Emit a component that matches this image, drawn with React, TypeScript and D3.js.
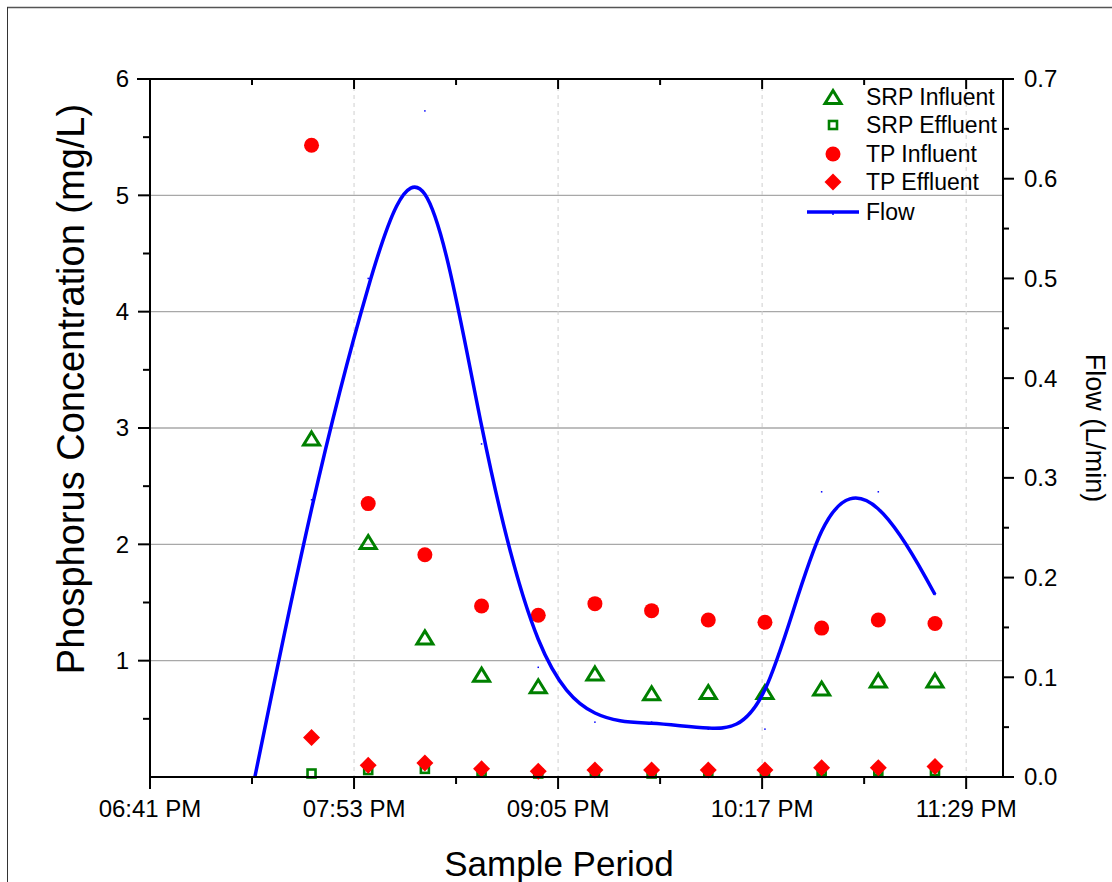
import React from "react";
import * as d3 from "d3";

// Sampling times (24h clock) and measured phosphorus concentrations (mg/L)
const sampleTimes = ["19:38", "19:58", "20:18", "20:38", "20:58", "21:18", "21:38", "21:58", "22:18", "22:38", "22:58", "23:18"];
const srpInfluent = [2.91, 2.02, 1.2, 0.88, 0.78, 0.89, 0.72, 0.73, 0.73, 0.76, 0.83, 0.83];
const srpEffluent = [0.03, 0.06, 0.07, 0.04, 0.03, 0.04, 0.03, 0.04, 0.04, 0.05, 0.05, 0.05];
const tpInfluent = [5.43, 2.35, 1.91, 1.47, 1.39, 1.49, 1.43, 1.35, 1.33, 1.28, 1.35, 1.32];
const tpEffluent = [0.34, 0.1, 0.12, 0.07, 0.05, 0.06, 0.06, 0.06, 0.06, 0.08, 0.08, 0.09];

// Flow readings (L/min), smoothed with a B-spline
const flowTimes = ["19:18", "19:38", "19:58", "20:18", "20:38", "20:58", "21:18", "21:38", "21:58", "22:18", "22:38", "22:58", "23:18"];
const flowValues = [0, 0.278, 0.5, 0.668, 0.334, 0.11, 0.055, 0.055, 0.048, 0.048, 0.286, 0.286, 0.183];

// Axis settings
const xStart = "18:41";
const xEnd = "23:42";
const xTickTimes = ["18:41", "19:53", "21:05", "22:17", "23:29"];
const xMinorTimes = ["19:17", "20:29", "21:41", "22:53"];
const leftTicks = [1, 2, 3, 4, 5, 6];
const rightTicks = [0, 0.1, 0.2, 0.3, 0.4, 0.5, 0.6, 0.7];

const legendLabels = ["SRP Influent", "SRP Effluent", "TP Influent", "TP Effluent", "Flow"];

const toDate = (t: string) => {
  const [h, m] = t.split(":").map(Number);
  return new Date(2019, 5, 1, h, m);
};

const W = 1112;
const H = 882;
const L = 150, R = 1003, T = 79, B = 777;
const FONT = "'Liberation Sans', Arial, sans-serif";
const GREEN = "#008000";
const RED = "#ff0000";
const BLUE = "#0000ff";
const TICK_FS = 24;

export default function App() {
  const x = d3.scaleTime().domain([toDate(xStart), toDate(xEnd)]).range([L, R]);
  const yL = d3.scaleLinear().domain([0, 6]).range([B, T]);
  const yR = d3.scaleLinear().domain([0, 0.7]).range([B, T]);
  const fmt = d3.timeFormat("%I:%M %p");

  const samples = sampleTimes.map(toDate);
  const flowPts: [number, number][] = flowTimes.map((t, i) => [x(toDate(t)), yR(flowValues[i])]);
  const flowPath = d3.line().curve(d3.curveBasis)(flowPts) || "";

  const triPath = (cx: number, cy: number, w = 16, h = 13) =>
    `M${cx},${cy - h / 2}L${cx + w / 2},${cy + h / 2}L${cx - w / 2},${cy + h / 2}Z`;
  const diaPath = (cx: number, cy: number, r = 8.5) =>
    `M${cx},${cy - r}L${cx + r},${cy}L${cx},${cy + r}L${cx - r},${cy}Z`;

  const leftMinor = d3.range(0.5, 6, 1);
  const rightMinor = d3.range(0.05, 0.7, 0.1);

  const legendX = 833;
  const legendY = [97, 125, 154, 182, 212];

  return (
    <div style={{ position: "absolute", left: 0, top: 0 }}>
      <svg width={W} height={H} style={{ display: "block", background: "#fff" }} fontFamily={FONT}>
        {/* page frame */}
        <line x1={7} y1={7.5} x2={W} y2={7.5} stroke="#555" strokeWidth={1.5} />
        <line x1={7.5} y1={7} x2={7.5} y2={H} stroke="#333" strokeWidth={1} />

        {/* gridlines */}
        {leftTicks.filter((v) => v < 6).map((v) => (
          <line key={"gh" + v} x1={L} x2={R} y1={yL(v)} y2={yL(v)} stroke="#a8a8a8" strokeWidth={1.3} />
        ))}
        {xTickTimes.slice(1).map((t) => (
          <line key={"gv" + t} x1={x(toDate(t))} x2={x(toDate(t))} y1={T} y2={B} stroke="#cfcfcf" strokeWidth={1} strokeDasharray="4,4" />
        ))}

        {/* scatter series */}
        {samples.map((d, i) => (
          <path key={"si" + i} d={triPath(x(d), yL(srpInfluent[i]))} fill="none" stroke={GREEN} strokeWidth={3} strokeLinejoin="miter" />
        ))}
        {samples.map((d, i) => (
          <rect key={"se" + i} x={x(d) - 4} y={yL(srpEffluent[i]) - 4} width={8} height={8} fill="none" stroke={GREEN} strokeWidth={2.6} />
        ))}
        {samples.map((d, i) => (
          <circle key={"ti" + i} cx={x(d)} cy={yL(tpInfluent[i])} r={7.5} fill={RED} />
        ))}
        {samples.map((d, i) => (
          <path key={"te" + i} d={diaPath(x(d), yL(tpEffluent[i]))} fill={RED} />
        ))}

        {/* flow curve and its readings */}
        <path d={flowPath} fill="none" stroke={BLUE} strokeWidth={3.5} />
        {flowPts.map(([px, py], i) => (
          <rect key={"fp" + i} x={px - 0.75} y={py - 0.75} width={1.5} height={1.5} fill={BLUE} />
        ))}

        {/* axes frame */}
        <line x1={L} x2={L} y1={T} y2={B + 1} stroke="#000" strokeWidth={2} />
        <line x1={R} x2={R} y1={T} y2={B + 1} stroke="#000" strokeWidth={2} />
        <line x1={L - 13} x2={R} y1={T} y2={T} stroke="#000" strokeWidth={2} />
        <line x1={L} x2={R} y1={B} y2={B} stroke="#000" strokeWidth={2} />

        {/* left axis ticks and labels */}
        {leftTicks.map((v) => (
          <g key={"lt" + v}>
            <line x1={L - 12} x2={L} y1={yL(v)} y2={yL(v)} stroke="#000" strokeWidth={2} />
            <text x={L - 21} y={yL(v)} dy="0.35em" textAnchor="end" fontSize={TICK_FS}>{v}</text>
          </g>
        ))}
        {leftMinor.map((v) => (
          <line key={"lm" + v} x1={L - 7} x2={L} y1={yL(v)} y2={yL(v)} stroke="#000" strokeWidth={2} />
        ))}

        {/* right axis ticks and labels */}
        {rightTicks.map((v) => (
          <g key={"rt" + v}>
            <line x1={R} x2={R + 11} y1={yR(v)} y2={yR(v)} stroke="#000" strokeWidth={2} />
            <text x={R + 21} y={yR(v)} dy="0.35em" textAnchor="start" fontSize={TICK_FS}>{d3.format(".1f")(v)}</text>
          </g>
        ))}
        {rightMinor.map((v) => (
          <line key={"rm" + v} x1={R} x2={R + 6} y1={yR(v)} y2={yR(v)} stroke="#000" strokeWidth={2} />
        ))}

        {/* bottom and top axis ticks */}
        {xTickTimes.map((t) => {
          const px = x(toDate(t));
          return (
            <g key={"xt" + t}>
              <line x1={px} x2={px} y1={B} y2={B + 12} stroke="#000" strokeWidth={2} />
              <line x1={px} x2={px} y1={T} y2={T + 10} stroke="#000" strokeWidth={2} />
              <text x={px} y={B + 32} dy="0.35em" textAnchor="middle" fontSize={TICK_FS}>{fmt(toDate(t))}</text>
            </g>
          );
        })}
        {xMinorTimes.map((t) => {
          const px = x(toDate(t));
          return (
            <g key={"xm" + t}>
              <line x1={px} x2={px} y1={B} y2={B + 7} stroke="#000" strokeWidth={2} />
              <line x1={px} x2={px} y1={T} y2={T + 6} stroke="#000" strokeWidth={2} />
            </g>
          );
        })}

        {/* axis titles */}
        <text x={559} y={864} dy="0.35em" textAnchor="middle" fontSize={35}>Sample Period</text>
        <text transform={`translate(71,389) rotate(-90)`} dy="0.35em" textAnchor="middle" fontSize={38}>
          Phosphorus Concentration (mg/L)
        </text>
        <text transform={`translate(1095,428) rotate(90)`} dy="0.35em" textAnchor="middle" fontSize={27}>
          Flow (L/min)
        </text>

        {/* legend */}
        <path d={triPath(legendX, legendY[0])} fill="none" stroke={GREEN} strokeWidth={3} />
        <rect x={legendX - 4} y={legendY[1] - 4} width={8} height={8} fill="none" stroke={GREEN} strokeWidth={2.6} />
        <circle cx={legendX} cy={legendY[2]} r={7.5} fill={RED} />
        <path d={diaPath(legendX, legendY[3])} fill={RED} />
        <line x1={807} x2={859} y1={legendY[4]} y2={legendY[4]} stroke={BLUE} strokeWidth={3.5} />
        <rect x={legendX - 0.75} y={legendY[4] + 1} width={1.5} height={2} fill={BLUE} />
        {legendLabels.map((lab, i) => (
          <text key={lab} x={866} y={legendY[i]} dy="0.35em" fontSize={23}>{lab}</text>
        ))}
      </svg>
    </div>
  );
}
